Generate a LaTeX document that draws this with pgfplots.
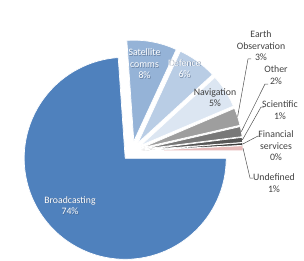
\documentclass[border=0pt]{standalone}
\usepackage{pgfplots}
\pgfplotsset{compat=1.18}
\usepackage{pgfplotstable}
\usepackage{fontspec}
\setmainfont{Carlito}

\definecolor{cBro}{RGB}{79,129,189}
\definecolor{cCom}{RGB}{149,179,215}
\definecolor{cDef}{RGB}{185,205,229}
\definecolor{cNav}{RGB}{220,230,242}
\definecolor{cEar}{RGB}{158,158,158}
\definecolor{cOth}{RGB}{120,120,120}
\definecolor{cSci}{RGB}{86,86,86}
\definecolor{cFin}{RGB}{60,60,60}
\definecolor{cUnd}{RGB}{230,185,184}
\definecolor{txt}{RGB}{64,64,64}
\definecolor{lead}{RGB}{80,80,80}
\definecolor{shd}{RGB}{70,90,120}

% share of each segment (percent), counter-clockwise from 0 degrees
\pgfplotstableread[col sep=comma]{
name,value,color
Undefined,0.8,cUnd
Financial services,0.4,cFin
Scientific,0.8,cSci
Other,1.6,cOth
Earth Observation,2.8,cEar
Navigation,5.4,cNav
Defence,6.3,cDef
Satellite comms,8.0,cCom
Broadcasting,73.9,cBro
}\piedata

\def\pcx{132}\def\pcy{109}\def\pR{101}\def\pex{10}

\begin{document}
\begin{tikzpicture}[
  lbl/.style={align=center, font=\fontsize{9.8}{11.6}\selectfont, text=txt, inner sep=0pt},
  wlbl/.style={align=center, font=\fontsize{9.8}{11.6}\selectfont, text=white, inner sep=0pt},
  slbl/.style={align=center, font=\fontsize{9.8}{11.6}\selectfont, text=shd, text opacity=0.6, inner sep=0pt}]
\begin{axis}[x=1pt,y=1pt,xmin=0,xmax=304,ymin=0,ymax=260,
  axis line style={draw=none}, xtick=\empty, ytick=\empty, clip=false]
\def\scum{0}
\pgfplotsforeachungrouped \i in {0,...,8}{%
  \pgfplotstablegetelem{\i}{value}\of\piedata \let\sV\pgfplotsretval
  \pgfplotstablegetelem{\i}{color}\of\piedata \let\sCol\pgfplotsretval
  \pgfmathsetmacro\sA{\scum*3.6}%
  \pgfmathsetmacro\sB{(\scum+\sV)*3.6}%
  \pgfmathsetmacro\sM{(\sA+\sB)/2}%
  \pgfmathsetmacro\sPX{\pcx+\pex*cos(\sM)}%
  \pgfmathsetmacro\sPY{\pcy+\pex*sin(\sM)}%
  \edef\tmp{\noexpand\addplot[fill=\sCol, draw=white, line width=0.7pt, line join=round, domain=\sA:\sB, samples=90, variable=\noexpand\t] ({\sPX+\pR*cos(\noexpand\t)},{\sPY+\pR*sin(\noexpand\t)}) -- (axis cs:\sPX,\sPY) -- cycle;}%
  \tmp
  \pgfmathsetmacro\scum{\scum+\sV}%
}
% leader lines
\addplot[draw=lead, line width=0.5pt] coordinates {(251,201) (248,201) (237.6,143.3)};
\addplot[draw=lead, line width=0.5pt] coordinates {(268,176) (265,176) (241.3,128.4)};
\addplot[draw=lead, line width=0.5pt] coordinates {(264,153) (261,153) (242.4,120.1)};
\addplot[draw=lead, line width=0.5pt] coordinates {(261,124) (258,124) (242.8,116)};
\addplot[draw=lead, line width=0.5pt] coordinates {(253,82) (250,82) (243,111.8)};
% labels (white labels with a soft shadow)
\node[slbl] at (axis cs:70.7,53.8) {Broadcasting\\74\%};
\node[wlbl] at (axis cs:70,54.5) {Broadcasting\\74\%};
\node[slbl] at (axis cs:145.2,195.3) {Satellite\\comms\\8\%};
\node[wlbl] at (axis cs:144.5,196) {Satellite\\comms\\8\%};
\node[slbl] at (axis cs:185.2,190.8) {Defence\\6\%};
\node[wlbl] at (axis cs:184.5,191.5) {Defence\\6\%};
\node[lbl] at (axis cs:215,162.5) {Navigation\\5\%};
\node[lbl] at (axis cs:261,214) {Earth\\Observation\\3\%};
\node[lbl] at (axis cs:276,185) {Other\\2\%};
\node[lbl] at (axis cs:280,150) {Scientific\\1\%};
\node[lbl] at (axis cs:276,114) {Financial\\services\\0\%};
\node[lbl] at (axis cs:274,77) {Undefined\\1\%};
\end{axis}
\end{tikzpicture}
\end{document}
